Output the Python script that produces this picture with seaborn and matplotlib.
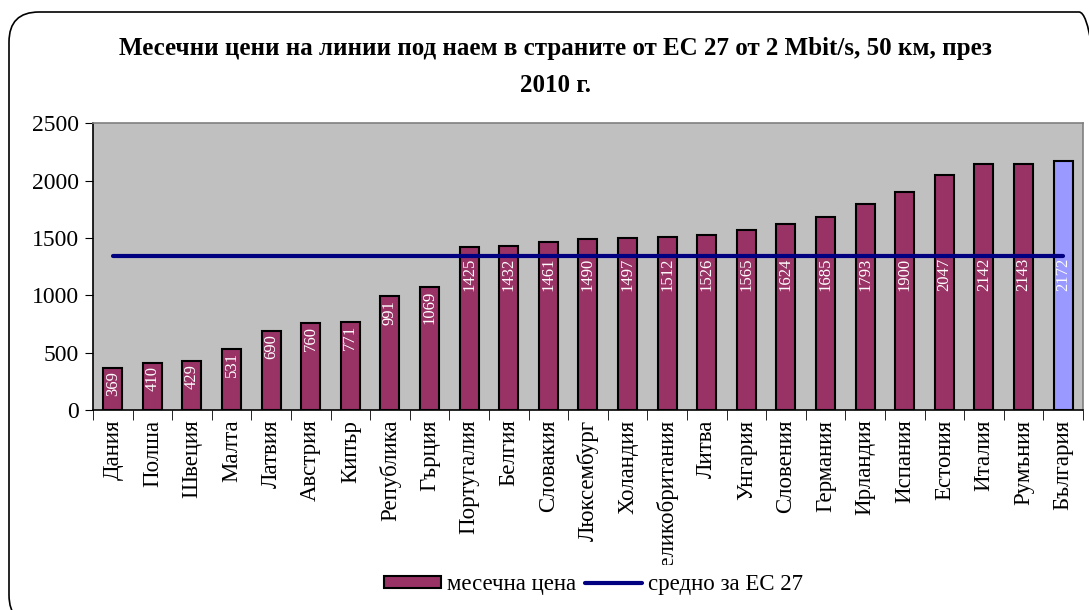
import matplotlib
matplotlib.use('Agg')
import matplotlib.pyplot as plt
import seaborn as sns
import numpy as np
import pandas as pd
from matplotlib.patches import FancyBboxPatch, Patch
from matplotlib.lines import Line2D
from matplotlib.transforms import Bbox

# Данни от графиката
countries = ['Дания', 'Полша', 'Швеция', 'Малта', 'Латвия', 'Австрия', 'Кипър',
             'Република', 'Гърция', 'Португалия', 'Белгия', 'Словакия', 'Люксембург',
             'Холандия', 'Великобритания', 'Литва', 'Унгария', 'Словения', 'Германия',
             'Ирландия', 'Испания', 'Естония', 'Италия', 'Румъния', 'България']
prices = [369, 410, 429, 531, 690, 760, 771, 991, 1069, 1425, 1432, 1461, 1490,
          1497, 1512, 1526, 1565, 1624, 1685, 1793, 1900, 2047, 2142, 2143, 2172]
eu_average = 1340
title = 'Месечни цени на линии под наем в страните от ЕС 27 от 2 Mbit/s, 50 км, през\n2010 г.'

sns.set_style('white')
plt.rcParams['font.family'] = ['Liberation Serif', 'DejaVu Serif']
plt.rcParams['text.color'] = 'black'
plt.rcParams['xtick.color'] = 'black'
plt.rcParams['ytick.color'] = 'black'

df = pd.DataFrame({'country': countries, 'price': prices})
colors = ['#993366'] * (len(countries) - 1) + ['#9999FF']

fig = plt.figure(figsize=(10.89, 6.10), dpi=100)
ax = fig.add_axes([0.0854, 0.328, 0.909, 0.470])
ax.set_facecolor('#C0C0C0')

sns.barplot(data=df, x='country', y='price', hue='country', palette=colors,
            legend=False, width=0.48, edgecolor='black', linewidth=1.5,
            saturation=1, ax=ax)

x = np.arange(len(countries))
sns.lineplot(x=x, y=[eu_average] * len(countries), color='#000080',
             linewidth=3, ax=ax)

# подписи на стойностите
for xi, v in zip(x, prices):
    ypos = min(v, 1360) - 30
    ax.text(xi, ypos, str(v), rotation=90, ha='center', va='top',
            color='white', fontsize=12)

ax.set_xlim(-0.5, len(countries) - 0.5)
ax.set_ylim(0, 2500)
ax.set_yticks([0, 500, 1000, 1500, 2000, 2500])
ax.set_xlabel('')
ax.set_ylabel('')
ax.set_xticks(x)
ax.set_xticklabels(countries, rotation=90, fontsize=16.5)
ax.tick_params(axis='y', labelsize=17, length=6, direction='out', left=True, pad=4)
ax.tick_params(axis='x', length=0, pad=7)
# деления между категориите
ax.set_xticks(np.arange(-0.5, len(countries)), minor=True)
ax.tick_params(axis='x', which='minor', length=7, direction='out', bottom=True)

for s in ['left', 'bottom']:
    ax.spines[s].set_color('black')
    ax.spines[s].set_linewidth(1.2)
for s in ['top', 'right']:
    ax.spines[s].set_color('#808080')
    ax.spines[s].set_linewidth(1.2)

# отрязване на дългите подписи
clip = Bbox.from_extents(0, 45, 1089, 610)
for lbl in ax.get_xticklabels():
    lbl.set_clip_on(True)
    lbl.set_clip_box(clip)

fig.text(0.51, 0.94, title, ha='center', va='top', fontsize=18,
         fontweight='bold', linespacing=1.8)

handles = [Patch(facecolor='#993366', edgecolor='black', linewidth=1.5),
           Line2D([0], [0], color='#000080', linewidth=3)]
fig.legend(handles, ['месечна цена', 'средно за ЕС 27'], loc='center',
           bbox_to_anchor=(0.545, 0.042), ncol=2, frameon=False, fontsize=16.5,
           handlelength=2.5, handleheight=0.45, columnspacing=0.35,
           handletextpad=0.26)

frame = FancyBboxPatch((0.09, -0.15), 11.0, 6.13, boxstyle='round,pad=0,rounding_size=0.3',
                       transform=fig.dpi_scale_trans, facecolor='none',
                       edgecolor='black', linewidth=1.2)
fig.patches.append(frame)

fig.savefig('out.png', dpi=100)
